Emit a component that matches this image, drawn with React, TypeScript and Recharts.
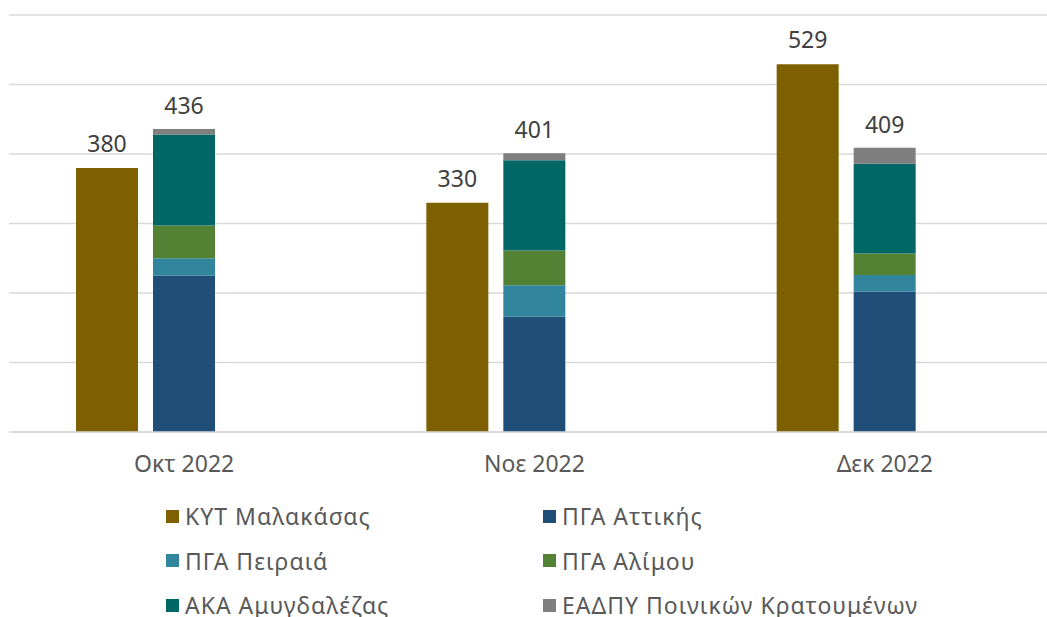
import { BarChart, Bar, XAxis, YAxis, CartesianGrid, LabelList } from 'recharts';

// Monthly values per facility
const months = ['Οκτ 2022', 'Νοε 2022', 'Δεκ 2022'];
const malakasas = [380, 330, 529];
const attikis = [225, 166, 202];
const peiraia = [25, 45, 24];
const alimou = [47, 50, 31];
const amygdalezas = [131, 130, 129];
const eadpy = [8, 10, 23];
const yTicks = [0, 100, 200, 300, 400, 500, 600];

const seriesNames = [
    'ΚΥΤ Μαλακάσας',
    'ΠΓΑ Αττικής',
    'ΠΓΑ Πειραιά',
    'ΠΓΑ Αλίμου',
    'ΑΚΑ Αμυγδαλέζας',
    'ΕΑΔΠΥ Ποινικών Κρατουμένων',
];
const seriesColors = ['#7f6000', '#1f4e79', '#31859c', '#548235', '#006666', '#7f7f7f'];

const data = months.map((month, i) => ({
    month,
    malakasas: malakasas[i],
    attikis: attikis[i],
    peiraia: peiraia[i],
    alimou: alimou[i],
    amygdalezas: amygdalezas[i],
    eadpy: eadpy[i],
    total: attikis[i] + peiraia[i] + alimou[i] + amygdalezas[i] + eadpy[i],
}));

const FONT = "'Noto Sans', sans-serif";
const labelStyle = { fill: '#404040', fontSize: 23, fontFamily: FONT };

export default function App() {
    return (
        <div
            style={{
                position: 'absolute',
                left: 0,
                top: 0,
                width: 1047,
                height: 617,
                overflow: 'hidden',
                background: '#fff',
                fontFamily: FONT,
            }}
        >
            <BarChart
                width={1070}
                height={480}
                data={data}
                margin={{ top: 15, right: 10, left: 9, bottom: 0 }}
                barSize={62}
                barGap={15}
            >
                <CartesianGrid vertical={false} stroke="#d9d9d9" strokeWidth={1.5} />
                <XAxis
                    dataKey="month"
                    interval={0}
                    height={48}
                    tickLine={false}
                    tickMargin={18}
                    axisLine={{ stroke: '#d9d9d9', strokeWidth: 1.5 }}
                    tick={{ fill: '#595959', fontSize: 23, fontFamily: FONT }}
                />
                <YAxis hide domain={[0, 600]} ticks={yTicks} />
                <Bar dataKey="malakasas" stackId="m" fill={seriesColors[0]} isAnimationActive={false}>
                    <LabelList dataKey="malakasas" position="top" offset={16} style={labelStyle} />
                </Bar>
                <Bar dataKey="attikis" stackId="s" fill={seriesColors[1]} isAnimationActive={false} />
                <Bar dataKey="peiraia" stackId="s" fill={seriesColors[2]} isAnimationActive={false} />
                <Bar dataKey="alimou" stackId="s" fill={seriesColors[3]} isAnimationActive={false} />
                <Bar dataKey="amygdalezas" stackId="s" fill={seriesColors[4]} isAnimationActive={false} />
                <Bar dataKey="eadpy" stackId="s" fill={seriesColors[5]} isAnimationActive={false}>
                    <LabelList dataKey="total" position="top" offset={15} style={labelStyle} />
                </Bar>
                {/* empty third slot, keeps the pair off-centre like the original */}
                <Bar dataKey="slot" stackId="x" fill="transparent" legendType="none" isAnimationActive={false} />
            </BarChart>

            {/* Legend, two columns */}
            <div style={{ position: 'absolute', top: 494, left: 166 }}>
                {[0, 2, 4].map((row) => (
                    <div key={row} style={{ display: 'flex', height: 44.5, alignItems: 'center' }}>
                        {[row, row + 1].map((k) => (
                            <div
                                key={k}
                                style={{
                                    display: 'flex',
                                    alignItems: 'center',
                                    width: k % 2 === 0 ? 377 : 480,
                                }}
                            >
                                <span
                                    style={{
                                        width: 13,
                                        height: 13,
                                        background: seriesColors[k],
                                        marginRight: 6,
                                        flexShrink: 0,
                                    }}
                                />
                                <span
                                    style={{
                                        fontSize: 23,
                                        color: '#595959',
                                        whiteSpace: 'nowrap',
                                        letterSpacing: 1,
                                    }}
                                >
                                    {seriesNames[k]}
                                </span>
                            </div>
                        ))}
                    </div>
                ))}
            </div>
        </div>
    );
}
